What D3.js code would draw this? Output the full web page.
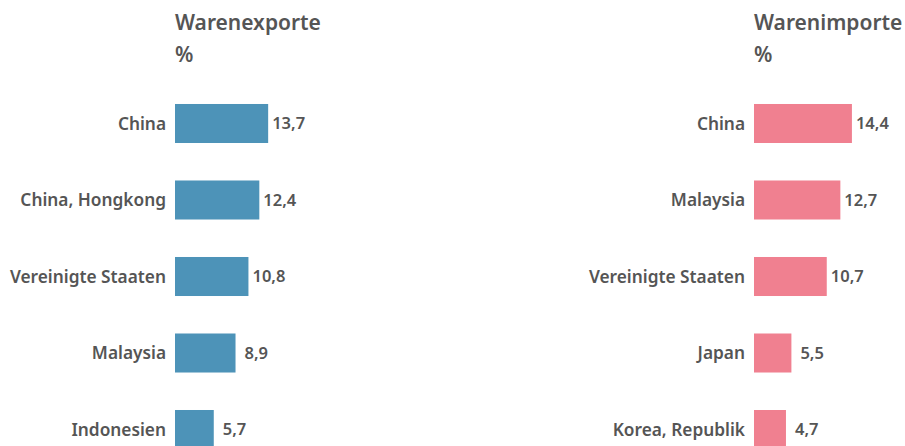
<!DOCTYPE html>
<html lang="de">
<head>
    <meta charset="UTF-8">
    <title>Warenexporte / Warenimporte</title>
</head>

<style>
body {
    margin: 0;
    background: #fff;
}

text {
    font-family: 'Noto Sans', sans-serif;
    fill: #555;
    font-weight: 600;
}

.title {
    font-size: 21px;
}

.label {
    font-size: 17.3px;
}

.value {
    font-size: 16.5px;
}

.exporte {
    fill: #4d93b8;
}

.importe {
    fill: #f08090;
}
</style>

<body>
<svg height="446" width="905"></svg>

<script src="https://d3js.org/d3.v7.min.js"></script>

<script>

    var exportLands = ["China", "China, Hongkong", "Vereinigte Staaten", "Malaysia", "Indonesien"];
    var exportValues = [13.7, 12.4, 10.8, 8.9, 5.7];

    var importLands = ["China", "Malaysia", "Vereinigte Staaten", "Japan", "Korea, Republik"];
    var importValues = [14.4, 12.7, 10.7, 5.5, 4.7];

    var translate = function(left, top) {
        return "translate(" + left + "," + top + ")";
    };

    var svg = d3.select("svg");
    var fmt = function(v) { return d3.format(".1f")(v).replace(".", ","); };

    var widthScale = d3.scaleLinear().domain([0, 15]).range([0, 102]);

    var drawPanel = function(left, title, lands, values, cls) {
        var panel = svg.append("g").attr("transform", translate(left, 0));

        var rowScale = d3.scaleBand()
            .domain(lands)
            .range([66.5, 486.5])
            .padding(0.49);

        panel.append("text")
            .attr("class", "title")
            .attr("x", 0)
            .attr("y", 30)
            .text(title);

        panel.append("text")
            .attr("class", "title")
            .attr("x", 0)
            .attr("y", 62)
            .text("%");

        var rows = panel.selectAll(".row")
            .data(lands)
            .enter()
            .append("g")
            .attr("class", "row")
            .attr("transform", function(d) { return translate(0, rowScale(d)); });

        rows.append("rect")
            .attr("class", cls)
            .attr("height", rowScale.bandwidth())
            .attr("width", function(d, i) { return widthScale(values[i]); });

        rows.append("text")
            .attr("class", "label")
            .attr("text-anchor", "end")
            .attr("x", -9)
            .attr("y", rowScale.bandwidth() / 2)
            .attr("dy", "0.35em")
            .text(function(d) { return d; });

        // single digit values sit one space further out
        rows.append("text")
            .attr("class", "value")
            .attr("x", function(d, i) { return widthScale(values[i]) + (values[i] < 10 ? 9 : 4); })
            .attr("y", rowScale.bandwidth() / 2)
            .attr("dy", "0.35em")
            .text(function(d, i) { return fmt(values[i]); });
    };

    drawPanel(175, "Warenexporte", exportLands, exportValues, "exporte");
    drawPanel(754, "Warenimporte", importLands, importValues, "importe");

</script>
</body>
</html>
